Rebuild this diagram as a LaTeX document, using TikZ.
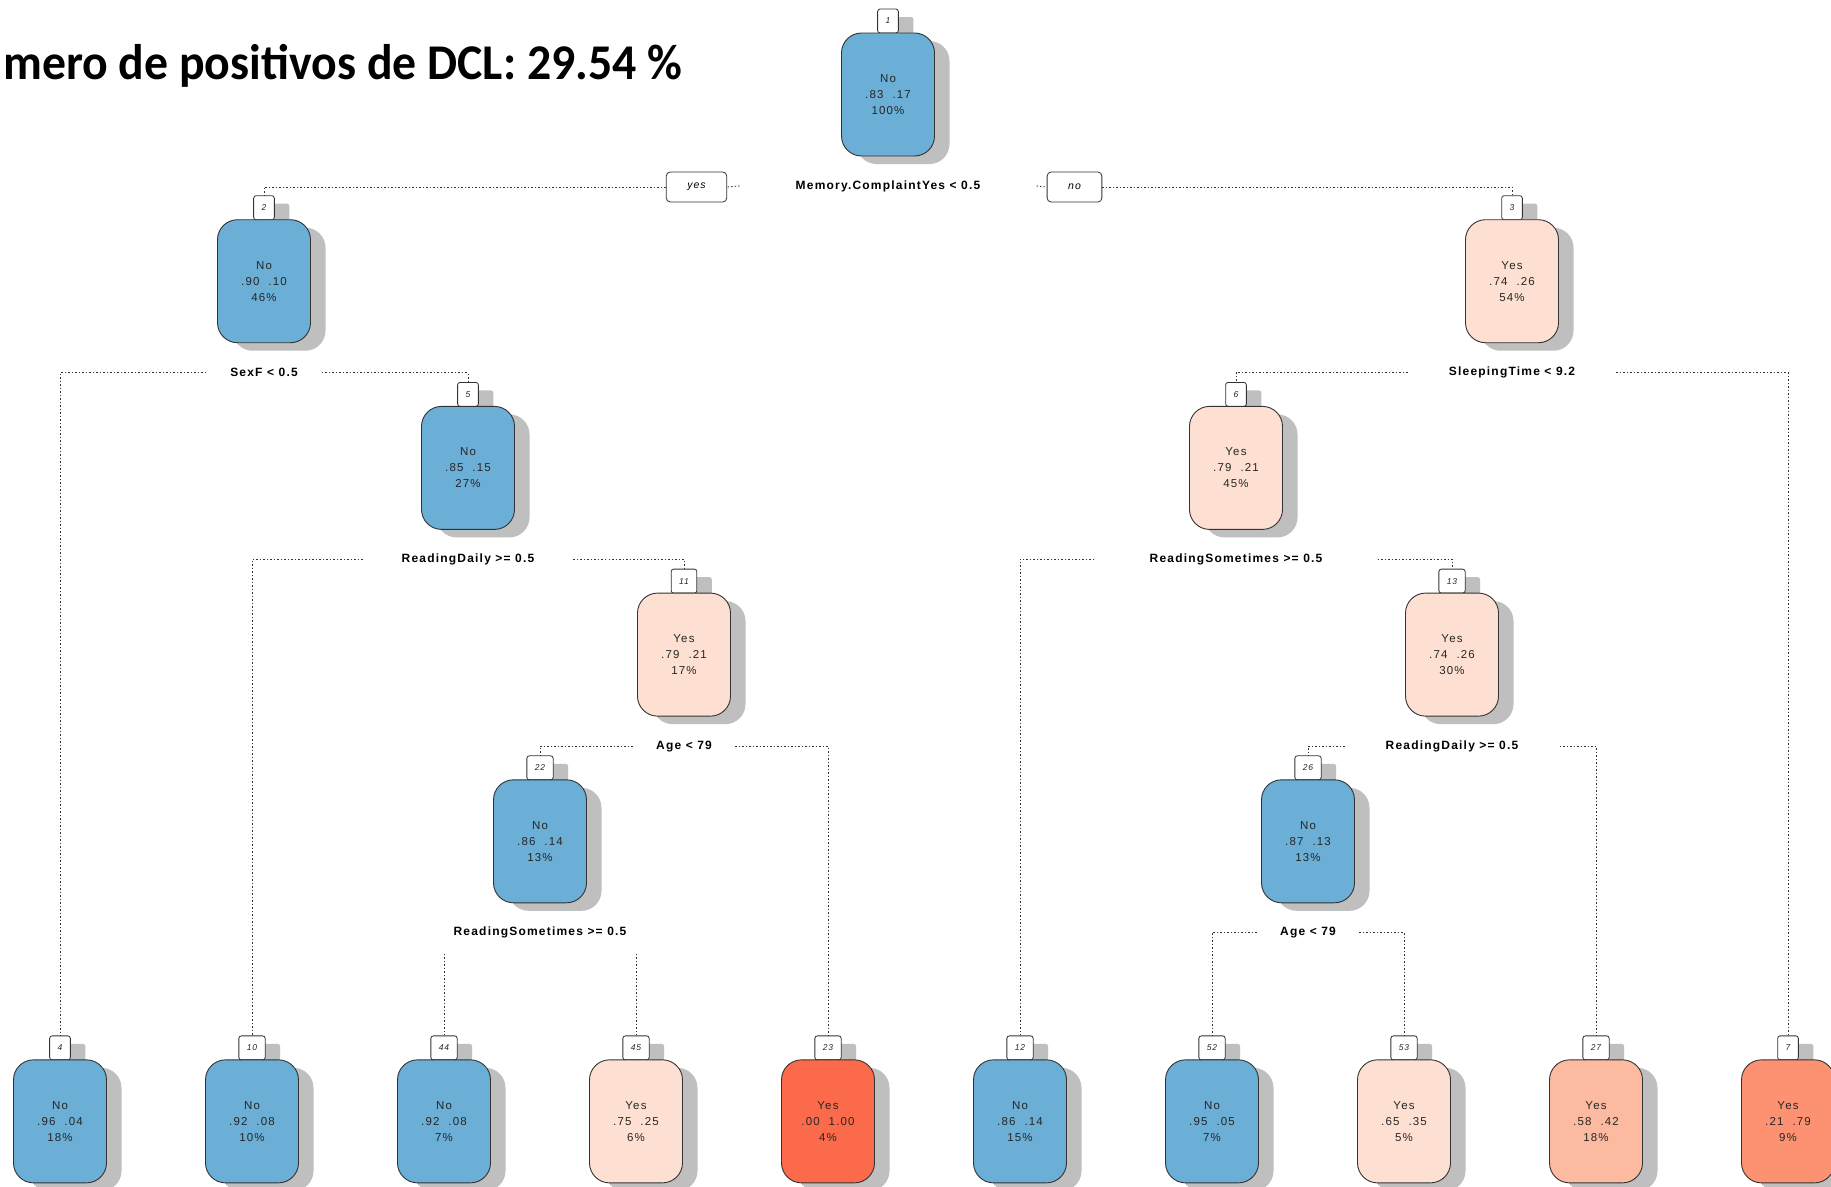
\documentclass[tikz,border=0pt]{standalone}
\usepackage{fontspec}
\setmainfont{Liberation Sans}
\newfontfamily\treefont{Liberation Sans}[LetterSpace=10]
\newfontfamily\titlefont{Carlito}
\usetikzlibrary{shadows}

\definecolor{noblue}{HTML}{6BAED6}
\definecolor{yesred1}{HTML}{FEE0D2}
\definecolor{yesred2}{HTML}{FCBBA1}
\definecolor{yesred3}{HTML}{FC9272}
\definecolor{yesred4}{HTML}{FB6A4A}
\definecolor{edgegray}{HTML}{333333}

\def\levelsep{186.7}

\begin{document}
\begin{tikzpicture}[x=1pt,y=-1pt]
    \tikzstyle{dropshade}=[drop shadow={shadow xshift=15pt,shadow yshift=-8pt,fill=black!25,opacity=1}]
    \tikzstyle{numtag}=[dropshade, draw=edgegray, fill=white, line width=0.8pt, rounded corners=2.5pt,
        minimum width=19pt, minimum height=24pt, inner xsep=8pt, inner ysep=0pt,
        text=black!85, font=\treefont\itshape\fontsize{8.5}{10}\selectfont]
    \tikzstyle{treebox}=[dropshade, draw=edgegray, line width=0.9pt, rounded corners=20pt,
        minimum width=93pt, minimum height=123pt, inner sep=0pt, align=center,
        text=black!85, font=\treefont\fontsize{11.5}{16}\selectfont]
    \tikzstyle{splitlabel}=[inner ysep=2pt, font=\treefont\bfseries\fontsize{12}{14}\selectfont]
    \tikzstyle{answerbox}=[draw=edgegray, fill=white, line width=0.8pt, rounded corners=4pt,
        minimum height=30pt, inner xsep=21pt, inner ysep=0pt,
        font=\treefont\itshape\fontsize{10.5}{12}\selectfont]
    \tikzstyle{branchline}=[draw=edgegray, line width=0.8pt, dash pattern=on 1.5pt off 2pt]

    \clip (0,0) rectangle (1831,1186);
    \fill[white] (0,0) rectangle (1831,1186);

    % Title, cut at the left edge
    \node[anchor=base west, inner sep=0pt, font=\titlefont\bfseries\fontsize{50}{60}\selectfont]
        (title) at (3,79) {\scalebox{0.955}[1]{mero de positivos de DCL: 29.54 \%}};

    % Draw the tree nodes: number tag first, then the box
    \foreach \id / \xpos / \lev / \cls / \pa / \pb / \pct / \col in {
        1/888/0/No/.83/.17/100/noblue,
        2/264/1/No/.90/.10/46/noblue,
        3/1512/1/Yes/.74/.26/54/yesred1,
        5/468/2/No/.85/.15/27/noblue,
        6/1236/2/Yes/.79/.21/45/yesred1,
        11/684/3/Yes/.79/.21/17/yesred1,
        13/1452/3/Yes/.74/.26/30/yesred1,
        22/540/4/No/.86/.14/13/noblue,
        26/1308/4/No/.87/.13/13/noblue,
        4/60/5.5/No/.96/.04/18/noblue,
        10/252/5.5/No/.92/.08/10/noblue,
        44/444/5.5/No/.92/.08/7/noblue,
        45/636/5.5/Yes/.75/.25/6/yesred1,
        23/828/5.5/Yes/.00/1.00/4/yesred4,
        12/1020/5.5/No/.86/.14/15/noblue,
        52/1212/5.5/No/.95/.05/7/noblue,
        53/1404/5.5/Yes/.65/.35/5/yesred1,
        27/1596/5.5/Yes/.58/.42/18/yesred2,
        7/1788/5.5/Yes/.21/.79/9/yesred3}
    {
        \node[numtag] (t\id) at (\xpos, 21+\lev*\levelsep) {\id};
        \node[treebox, fill=\col] (n\id) at (\xpos, 94.5+\lev*\levelsep) {\cls\\\pa\hspace{9pt}\pb\\\pct\%};
    }

    % Split conditions under the inner nodes
    \foreach \p / \xpos / \lev / \gap / \cond in {
        1/888/0/56/Memory.ComplaintYes < 0.5,
        2/264/1/24/SexF < 0.5,
        3/1512/1/41/SleepingTime < 9.2,
        5/468/2/39/ReadingDaily >= 0.5,
        6/1236/2/55/ReadingSometimes >= 0.5,
        11/684/3/23/Age < 79,
        13/1452/3/41/ReadingDaily >= 0.5,
        22/540/4/55/ReadingSometimes >= 0.5,
        26/1308/4/23/Age < 79}
        \node[splitlabel, inner xsep=\gap pt] (s\p) at (\xpos, 186+\lev*\levelsep) {\cond};

    % yes / no boxes of the first split
    \node[answerbox] (yes) at (696.5,187) {yes};
    \node[answerbox] (no) at (1074.5,187) {no};

    % Connect the root with its children
    \draw[branchline] (yes.west) -| (t2.north);
    \draw[branchline] (s1.west) -- (yes.east);
    \draw[branchline] (s1.east) -- (no.west);
    \draw[branchline] (no.east) -| (t3.north);

    % Connect every other split with its two children
    \foreach \p / \l / \r in {2/4/5, 5/10/11, 11/22/23, 3/6/7, 6/12/13, 13/26/27, 26/52/53}
        \draw[branchline] (s\p.west) -| (t\l.north) (s\p.east) -| (t\r.north);

    % The children of node 22 sit under its label
    \foreach \c in {44,45}
        \draw[branchline] ([yshift=-21pt]s22.center -| t\c.north) -- (t\c.north);
\end{tikzpicture}
\end{document}
